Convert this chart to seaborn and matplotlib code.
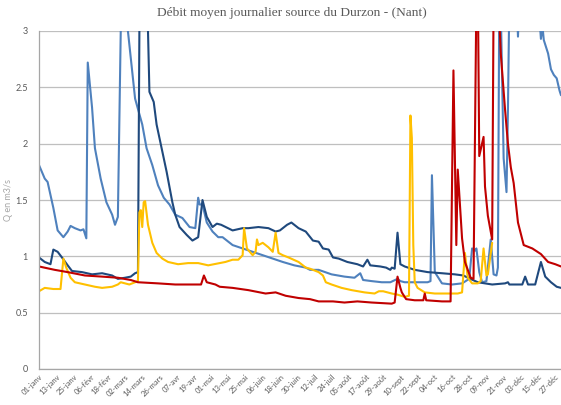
import matplotlib
matplotlib.use("Agg")
import matplotlib.pyplot as plt
import seaborn as sns
import pandas as pd

# ---- data (day of year index, discharge m3/s) ----
lb_days = [0, 4, 6, 10, 13, 17, 20, 22, 25, 29, 31, 33, 34, 37, 39, 43, 47, 51, 53, 55, 57, 59, 62,
           67, 72, 75, 79, 83, 87, 91, 95, 100, 105, 109, 111, 112, 114, 117, 121, 125, 128, 135,
           142, 149, 156, 163, 170, 178, 186, 189, 195, 204, 213, 220, 224, 226, 232, 239, 245,
           250, 252, 255, 262, 271, 273, 274, 276, 281, 288, 295, 300, 302, 304, 305, 307, 309,
           312, 315, 317, 319, 320, 321, 322, 324, 326, 327, 328, 330, 333, 334, 335, 340, 345,
           348, 350, 351, 352, 355, 357, 359, 361, 363, 364]
lb_q = [1.81, 1.69, 1.66, 1.43, 1.23, 1.17, 1.22, 1.27, 1.25, 1.23, 1.24, 1.16, 2.72, 2.32, 1.96,
        1.69, 1.48, 1.37, 1.28, 1.35, 3.0, 3.6, 3.0, 2.40, 2.17, 1.96, 1.81, 1.63, 1.52, 1.46, 1.37,
        1.34, 1.26, 1.25, 1.52, 1.46, 1.46, 1.30, 1.22, 1.17, 1.17, 1.10, 1.07, 1.04, 1.01, 0.98,
        0.95, 0.92, 0.90, 0.88, 0.88, 0.84, 0.82, 0.81, 0.85, 0.79, 0.78, 0.77, 0.77, 0.80, 0.78,
        0.77, 0.77, 0.77, 0.78, 1.72, 0.86, 0.76, 0.75, 0.76, 0.80, 1.07, 1.05, 1.07, 0.86, 0.77,
        0.78, 1.15, 0.84, 0.83, 0.90, 3.4, 3.2, 1.87, 1.57, 2.3, 3.3, 3.6, 3.3, 2.95, 3.3, 3.8,
        3.5, 3.3, 2.93, 3.05, 2.92, 2.80, 2.66, 2.61, 2.58, 2.47, 2.43]

db_days = [0, 4, 8, 10, 13, 16, 20, 23, 30, 37, 44, 51, 55, 60, 64, 67, 69, 70, 71, 75, 76, 77, 79,
           80, 82, 86, 89, 93, 95, 98, 103, 107, 111, 114, 117, 121, 124, 127, 135, 142, 146, 153,
           160, 165, 168, 173, 176, 181, 186, 191, 195, 198, 202, 205, 209, 215, 222, 226, 229,
           231, 238, 242, 245, 246, 248, 250, 252, 255, 262, 271, 281, 290, 296, 299, 306, 316,
           325, 327, 328, 337, 339, 341, 346, 350, 353, 357, 361, 364]
db_q = [0.99, 0.95, 0.93, 1.06, 1.04, 0.99, 0.92, 0.87, 0.86, 0.84, 0.85, 0.83, 0.80, 0.81, 0.82,
        0.85, 0.86, 3.0, 3.6, 3.5, 3.0, 2.46, 2.40, 2.37, 2.17, 1.93, 1.75, 1.48, 1.37, 1.26, 1.19,
        1.14, 1.17, 1.50, 1.35, 1.26, 1.29, 1.28, 1.23, 1.25, 1.25, 1.26, 1.25, 1.22, 1.23, 1.28,
        1.30, 1.25, 1.22, 1.14, 1.13, 1.07, 1.06, 0.99, 0.98, 0.95, 0.93, 0.91, 0.97, 0.92, 0.91,
        0.90, 0.88, 0.90, 0.89, 1.21, 0.93, 0.91, 0.88, 0.86, 0.85, 0.84, 0.83, 0.81, 0.77, 0.75,
        0.76, 0.77, 0.75, 0.75, 0.82, 0.75, 0.75, 0.95, 0.82, 0.77, 0.73, 0.72]

red_days = [0, 11, 20, 32, 44, 55, 64, 69, 83, 95, 107, 113, 115, 117, 123, 126, 135, 146, 158,
            165, 172, 181, 189, 195, 205, 213, 222, 232, 246, 248, 250, 252, 253, 256, 262, 268,
            269, 270, 281, 287, 289, 291, 292, 295, 297, 301, 303, 305, 306, 307, 310, 311, 313,
            316, 317, 320, 321, 322, 325, 327, 329, 331, 334, 338, 344, 350, 355, 360, 364]
red_q = [0.91, 0.88, 0.86, 0.83, 0.82, 0.81, 0.79, 0.77, 0.76, 0.75, 0.75, 0.75, 0.83, 0.77, 0.75,
         0.73, 0.72, 0.70, 0.67, 0.68, 0.65, 0.63, 0.62, 0.60, 0.60, 0.59, 0.60, 0.59, 0.58, 0.59,
         0.82, 0.72, 0.68, 0.62, 0.61, 0.61, 0.67, 0.61, 0.60, 0.60, 2.65, 1.10, 1.77, 1.16, 0.95,
         0.81, 0.80, 3.3, 3.4, 1.89, 2.06, 1.62, 1.36, 1.15, 3.3, 3.5, 3.1, 2.8, 2.3, 2.0, 1.79,
         1.65, 1.30, 1.10, 1.07, 1.02, 0.95, 0.93, 0.91]

yel_days = [0, 4, 10, 15, 17, 19, 22, 25, 32, 39, 44, 51, 55, 57, 63, 67, 69, 70, 71, 72, 73, 74,
            76, 79, 82, 86, 90, 97, 104, 111, 118, 126, 130, 135, 139, 142, 143, 145, 149, 151,
            152, 153, 156, 160, 163, 165, 167, 170, 174, 181, 186, 189, 195, 198, 200, 204, 211,
            218, 227, 234, 237, 240, 246, 250, 255, 258, 259, 260, 261, 262, 264, 269, 276, 283,
            292, 295, 297, 299, 302, 306, 308, 310, 312, 313, 316]
yel_q = [0.69, 0.72, 0.71, 0.71, 0.98, 0.90, 0.81, 0.77, 0.75, 0.73, 0.72, 0.73, 0.75, 0.77, 0.75,
         0.77, 0.78, 1.39, 1.41, 1.26, 1.48, 1.49, 1.28, 1.12, 1.03, 0.98, 0.95, 0.93, 0.94, 0.94,
         0.92, 0.94, 0.95, 0.97, 0.97, 1.01, 1.25, 1.07, 1.01, 1.04, 1.15, 1.10, 1.12, 1.08, 1.04,
         1.21, 1.03, 1.01, 0.99, 0.95, 0.90, 0.89, 0.86, 0.83, 0.77, 0.75, 0.72, 0.70, 0.68, 0.67,
         0.69, 0.69, 0.67, 0.66, 0.64, 0.65, 2.25, 2.05, 1.10, 0.77, 0.72, 0.68, 0.67, 0.67, 0.67,
         0.68, 1.03, 0.81, 0.76, 0.76, 0.78, 1.07, 0.83, 0.84, 1.12]

tick_days = list(range(0, 361, 12))
tick_labels = ["01-janv", "13-janv", "25-janv", "06-févr", "18-févr", "02-mars", "14-mars",
               "26-mars", "07-avr", "19-avr", "01-mai", "13-mai", "25-mai", "06-juin", "18-juin",
               "30-juin", "12-juil", "24-juil", "05-août", "17-août", "29-août", "10-sept",
               "22-sept", "04-oct", "16-oct", "28-oct", "09-nov", "21-nov", "03-déc", "15-déc",
               "27-déc"]
y_ticks = [0, 0.5, 1, 1.5, 2, 2.5, 3]
y_labels = ["0", "0.5", "1", "1.5", "2", "2.5", "3"]

# ---- plotting ----
sns.set_theme(style="white")
plt.rcParams['font.family'] = ['Lato', 'DejaVu Sans']

fig = plt.figure(figsize=(5.61, 4.05), dpi=100)
ax = fig.add_axes([39 / 561, 36 / 405, 522 / 561, 338 / 405])

series = [
    (lb_days, lb_q, "#4F81BD"),
    (db_days, db_q, "#1F497D"),
    (yel_days, yel_q, "#FFC000"),
    (red_days, red_q, "#C00000"),
]
for d, q, c in series:
    df = pd.DataFrame({"day": d, "q": q})
    sns.lineplot(data=df, x="day", y="q", ax=ax, color=c, linewidth=1.5,
                 estimator=None, sort=False, legend=False)

ax.set_xlim(0, 364)
ax.set_ylim(0, 3)
ax.set_yticks(y_ticks)
ax.set_yticklabels(y_labels)
ax.set_xticks(tick_days)
ax.set_xticklabels(tick_labels, rotation=45, ha="right", rotation_mode="anchor")
ax.tick_params(axis="x", labelsize=5.5, colors="#595959", length=0, pad=3)
ax.tick_params(axis="y", labelsize=6.5, colors="#595959", length=0, pad=8)
ax.yaxis.grid(True, color="#BFBFBF", linewidth=0.9)
ax.xaxis.grid(False)
for s in ["top", "right"]:
    ax.spines[s].set_visible(False)
for s in ["left", "bottom"]:
    ax.spines[s].set_color("#A6A6A6")
    ax.spines[s].set_linewidth(0.9)
ax.set_xlabel("")
ax.set_ylabel("Q en m3/s", fontsize=6.5, color="#A6A6A6")
ax.yaxis.set_label_coords(-0.05, 0.5)
ax.set_axisbelow(True)

fig.text(292 / 561, 1 - 13 / 405, "Débit moyen journalier source du Durzon - (Nant)",
         ha="center", va="center", fontsize=9.6, color="#595959", family=["Liberation Serif"])

fig.savefig("out.png", dpi=100)
